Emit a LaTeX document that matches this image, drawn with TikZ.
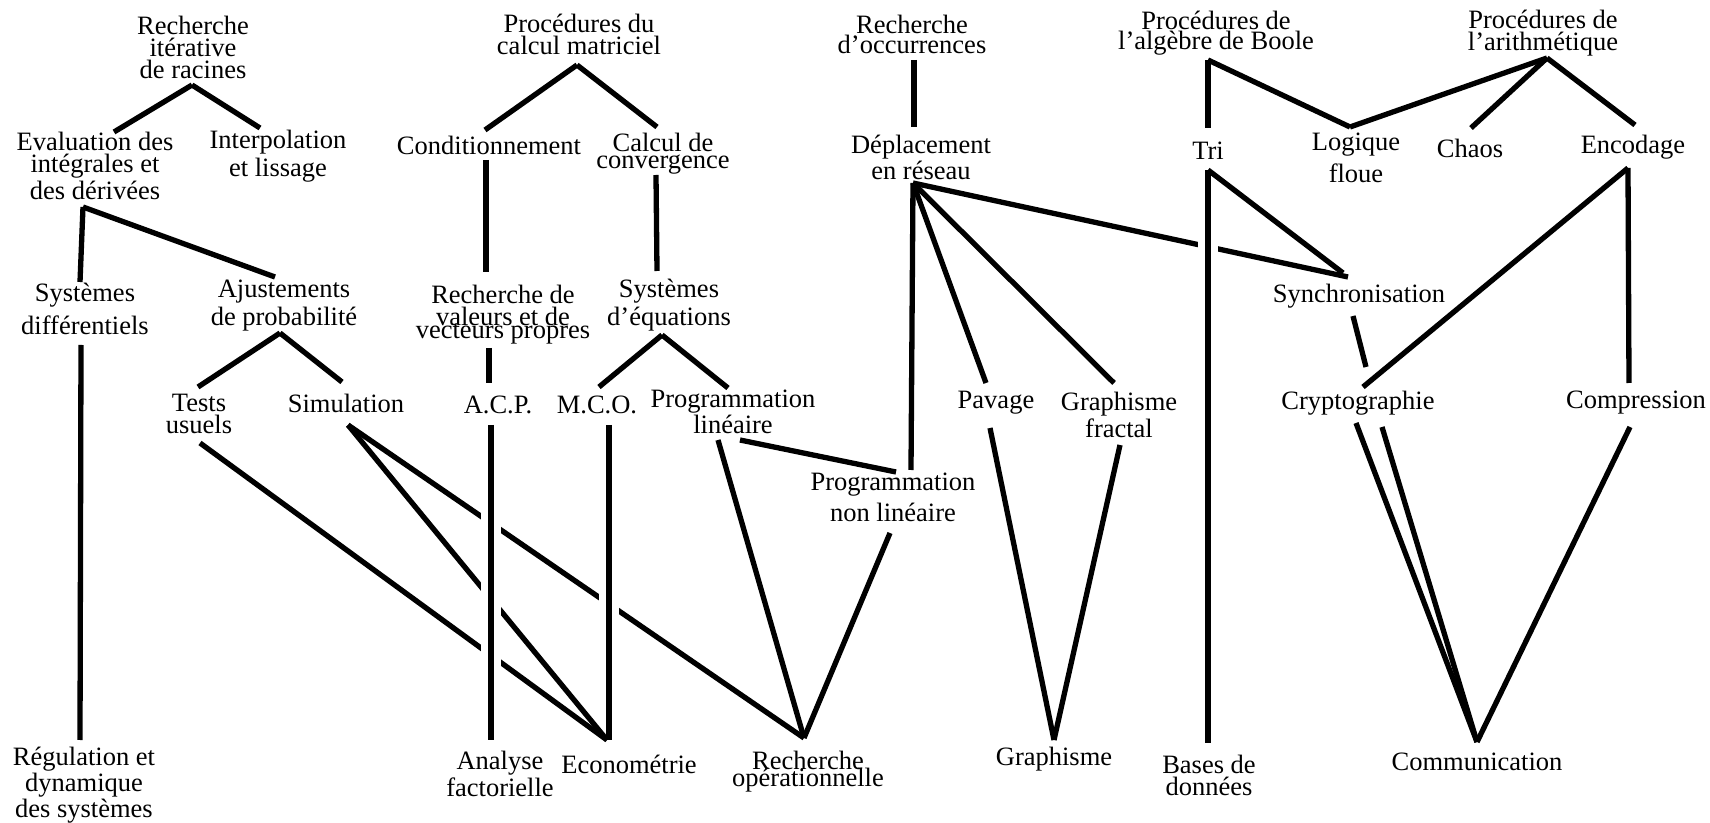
\documentclass[tikz,border=0pt]{standalone}
\usepackage{fontspec}
\setmainfont{Liberation Serif}
\usepackage{tikz}

\tikzset{
    topic/.style={align=center, inner sep=0pt, font=\fontsize{13.25pt}{11pt}\selectfont},
    link/.style={line width=2.65pt},
    over/.style={link, preaction={draw, white, line width=10pt}}
}

\begin{document}
\begin{tikzpicture}[x=0.5pt, y=-0.5pt]
    \useasboundingbox (0,0) rectangle (1710,823);

    % Define nodes
    \node[topic] (rac)      at (193,47)   {Recherche\\itérative\\de racines};
    \node[topic] (evalid)   at (95,166)   {Evaluation des\\intégrales et\\des dérivées};
    \node[topic] (interp)   at (278,156)  {Interpolation\\[1pt]et lissage};
    \node[topic] (sysdiff)  at (85,309)   {Systèmes\\[3pt]différentiels};
    \node[topic] (ajust)    at (284,306)  {Ajustements\\[1pt]de probabilité};
    \node[topic] (tests)    at (199,414)  {Tests\\usuels};
    \node[topic] (simul)    at (346,403)  {Simulation};
    \node[topic] (regul)    at (84,785)   {Régulation et\\dynamique\\des systèmes};

    \node[topic] (matr)     at (579,34)   {Procédures du\\calcul matriciel};
    \node[topic] (cond)     at (489,145)  {Conditionnement};
    \node[topic] (conv)     at (663,154)  {Calcul de\\[-2.5pt]convergence};
    \node[topic] (valp)     at (503,315)  {Recherche de\\valeurs et de\\[-4.5pt]vecteurs propres};
    \node[topic] (syseq)    at (669,305)  {Systèmes\\[1pt]d'équations};
    \node[topic] (acp)      at (498,405)  {A.C.P.};
    \node[topic] (mco)      at (597,405)  {M.C.O.};
    \node[topic] (proglin)  at (733,412)  {Programmation\\linéaire};
    \node[topic] (prognl)   at (893,497)  {Programmation\\[2.5pt]non linéaire};
    \node[topic] (analf)    at (500,774)  {Analyse\\factorielle};
    \node[topic] (econo)    at (629,764)  {Econométrie};
    \node[topic] (rechop)   at (808,772)  {Recherche\\[-2.5pt]opérationnelle};

    \node[topic] (occ)      at (912,34)   {Recherche\\[-1pt]d'occurrences};
    \node[topic] (depl)     at (921,157)  {Déplacement\\en réseau};
    \node[topic] (pavage)   at (996,403)  {Pavage};
    \node[topic] (gfract)   at (1119,415) {Graphisme\\fractal};
    \node[topic] (graph)    at (1054,759) {Graphisme};

    \node[topic] (boole)    at (1216,33)  {Procédures de\\[-1pt]l'algèbre de Boole};
    \node[topic] (arith)    at (1543,33)  {Procédures de\\l'arithmétique};
    \node[topic] (tri)      at (1208,151) {Tri};
    \node[topic] (floue)    at (1356,158) {Logique\\[2.5pt]floue};
    \node[topic] (chaos)    at (1470,148) {Chaos};
    \node[topic] (encod)    at (1633,147) {Encodage};
    \node[topic] (sync)     at (1359,296) {Synchronisation};
    \node[topic] (crypto)   at (1358,403) {Cryptographie};
    \node[topic] (compr)    at (1636,403) {Compression};
    \node[topic] (bases)    at (1209,775) {Bases de\\données};
    \node[topic] (comm)     at (1477,762) {Communication};

    % Connect nodes (crossing lines first, the upright ones over them)
    \draw[link] ([shift={(2,22)}]simul.center) -- ([shift={(-4,-34)}]rechop.center);
    \draw[over] ([shift={(12,20)}]mco.center) -- ([shift={(-20,-24)}]econo.center);
    \draw[link] ([shift={(1,29)}]tests.center) -- ([shift={(-22,-24)}]econo.center);
    \draw[link] ([shift={(2,22)}]simul.center) -- ([shift={(-22,-24)}]econo.center);
    \draw[over] ([shift={(-7,20)}]acp.center) -- ([shift={(-9,-34)}]analf.center);
    \draw[link] ([shift={(-8,26)}]depl.center) -- ([shift={(-11,-19)}]sync.center);
    \draw[over] ([shift={(0,19)}]tri.center) -- ([shift={(-1,-32)}]bases.center);

    \draw[link] ([shift={(-1,38)}]rac.center) -- ([shift={(19,-34)}]evalid.center);
    \draw[link] ([shift={(-1,38)}]rac.center) -- ([shift={(-18,-28)}]interp.center);
    \draw[link] ([shift={(-12,41)}]evalid.center) -- ([shift={(-5,-27)}]sysdiff.center);
    \draw[link] ([shift={(-12,41)}]evalid.center) -- ([shift={(-9,-29)}]ajust.center);
    \draw[link] ([shift={(-4,27)}]ajust.center) -- ([shift={(-1,-27)}]tests.center);
    \draw[link] ([shift={(-4,27)}]ajust.center) -- ([shift={(-4,-21)}]simul.center);
    \draw[link] ([shift={(-4,36)}]sysdiff.center) -- ([shift={(-4,-45)}]regul.center);

    \draw[link] ([shift={(-2,31)}]matr.center) -- ([shift={(-4,-15)}]cond.center);
    \draw[link] ([shift={(-2,31)}]matr.center) -- ([shift={(-6,-27)}]conv.center);
    \draw[link] ([shift={(-3,15)}]cond.center) -- ([shift={(-17,-43)}]valp.center);
    \draw[link] ([shift={(-7,21)}]conv.center) -- ([shift={(-12,-34)}]syseq.center);
    \draw[link] ([shift={(-14,33)}]valp.center) -- ([shift={(-9,-22)}]acp.center);
    \draw[link] ([shift={(-7,30)}]syseq.center) -- ([shift={(2,-18)}]mco.center);
    \draw[link] ([shift={(-7,30)}]syseq.center) -- ([shift={(-5,-24)}]proglin.center);
    \draw[link] ([shift={(-15,28)}]proglin.center) -- ([shift={(-4,-34)}]rechop.center);
    \draw[link] ([shift={(7,28)}]proglin.center) -- ([shift={(3,-25)}]prognl.center);
    \draw[link] ([shift={(-3,36)}]prognl.center) -- ([shift={(-4,-34)}]rechop.center);

    \draw[link] ([shift={(2,26)}]occ.center) -- ([shift={(-7,-30)}]depl.center);
    \draw[link] ([shift={(-8,26)}]depl.center) -- ([shift={(18,-27)}]prognl.center);
    \draw[link] ([shift={(-8,26)}]depl.center) -- ([shift={(-10,-20)}]pavage.center);
    \draw[link] ([shift={(-8,26)}]depl.center) -- ([shift={(-5,-32)}]gfract.center);
    \draw[link] ([shift={(-6,25)}]pavage.center) -- ([shift={(0,-19)}]graph.center);
    \draw[link] ([shift={(1,30)}]gfract.center) -- ([shift={(0,-19)}]graph.center);

    \draw[link] ([shift={(-8,27)}]boole.center) -- ([shift={(0,-23)}]tri.center);
    \draw[link] ([shift={(-8,27)}]boole.center) -- ([shift={(-6,-31)}]floue.center);
    \draw[link] ([shift={(4,25)}]arith.center) -- ([shift={(-6,-31)}]floue.center);
    \draw[link] ([shift={(4,25)}]arith.center) -- ([shift={(1,-20)}]chaos.center);
    \draw[link] ([shift={(4,25)}]arith.center) -- ([shift={(2,-22)}]encod.center);
    \draw[link] ([shift={(0,19)}]tri.center) -- ([shift={(-16,-23)}]sync.center);
    \draw[link] ([shift={(-6,20)}]sync.center) -- ([shift={(8,-36)}]crypto.center);
    \draw[link] ([shift={(-5,21)}]encod.center) -- ([shift={(5,-16)}]crypto.center);
    \draw[link] ([shift={(-5,21)}]encod.center) -- ([shift={(-7,-20)}]compr.center);
    \draw[link] ([shift={(-2,20)}]crypto.center) -- ([shift={(0,-20)}]comm.center);
    \draw[link] ([shift={(24,24)}]crypto.center) -- ([shift={(0,-20)}]comm.center);
    \draw[link] ([shift={(-6,24)}]compr.center) -- ([shift={(0,-20)}]comm.center);
\end{tikzpicture}
\end{document}
